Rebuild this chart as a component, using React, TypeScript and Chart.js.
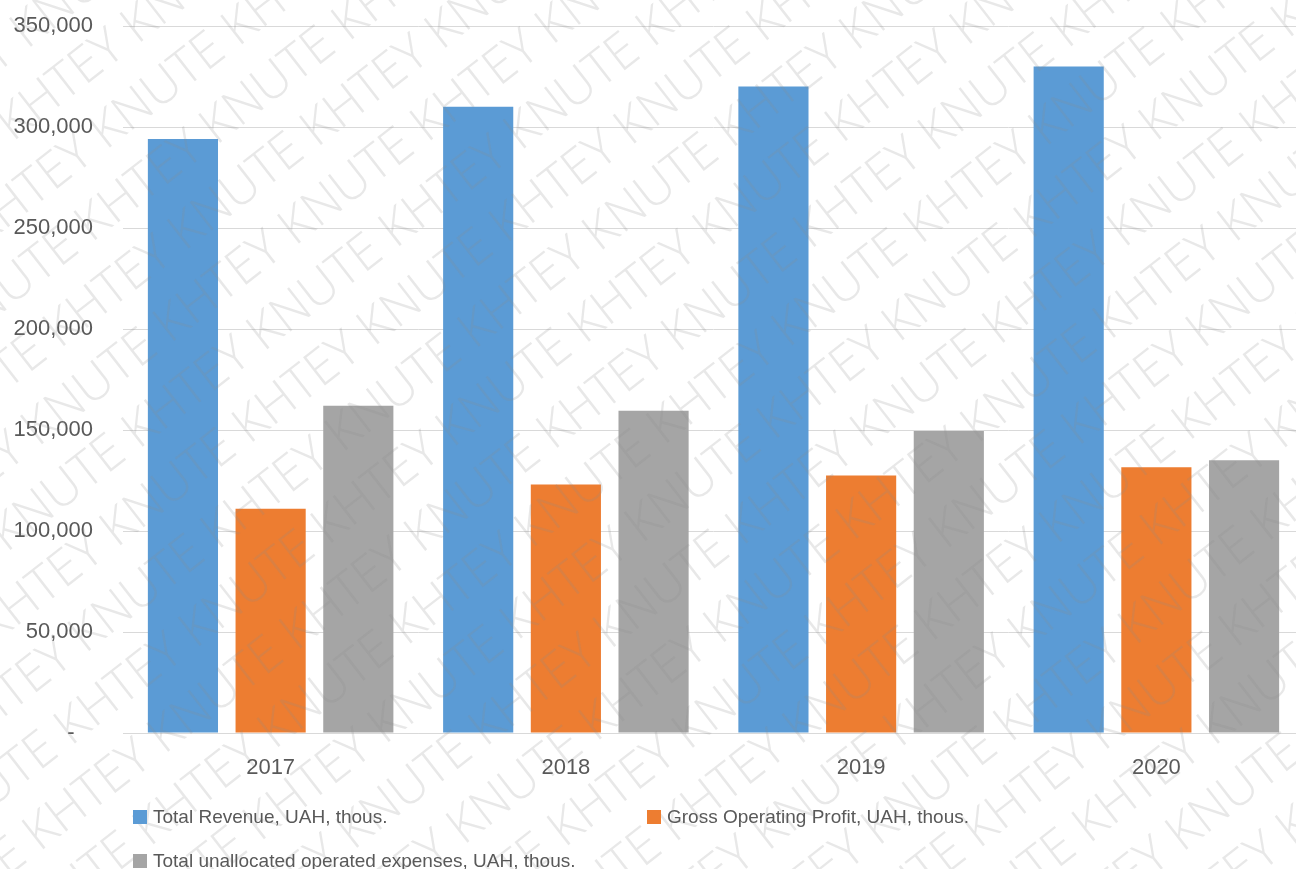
import React, { useEffect, useRef } from "react";
import { Chart, registerables } from "chart.js";

Chart.register(...registerables);

const categories = ["2017", "2018", "2019", "2020"];
const revenue = [294000, 310000, 320000, 330000];
const grossProfit = [111000, 123000, 127500, 131500];
const unallocated = [162000, 159500, 149500, 135000];
const seriesLabels = [
  "Total Revenue, UAH, thous.",
  "Gross Operating Profit, UAH, thous.",
  "Total unallocated operated expenses, UAH, thous.",
];
const seriesColors = ["#5B9BD5", "#ED7D31", "#A5A5A5"];
const yTicks = [0, 50000, 100000, 150000, 200000, 250000, 300000, 350000];
const watermarkText = "KHTEY KNUTE";

const textColor = "#595959";
const gridColor = "#D9D9D9";

const legendPlugin = {
  id: "customLegend",
  afterDraw(chart: any) {
    const ctx = chart.ctx;
    const items = [
      { x: 133, y: 817 },
      { x: 647, y: 817 },
      { x: 133, y: 861 },
    ];
    ctx.save();
    ctx.font = '19px "Liberation Sans", Arial, sans-serif';
    ctx.textBaseline = "middle";
    ctx.textAlign = "left";
    items.forEach((it, i) => {
      ctx.fillStyle = seriesColors[i];
      ctx.fillRect(it.x, it.y - 7, 14, 14);
      ctx.fillStyle = textColor;
      ctx.fillText(seriesLabels[i], it.x + 20, it.y + 1);
    });
    ctx.restore();
  },
};

const watermarkPlugin = {
  id: "watermark",
  afterDraw(chart: any) {
    const ctx = chart.ctx;
    const w = chart.width;
    const h = chart.height;
    ctx.save();
    ctx.font = '300 50px "Open Sans", "DejaVu Sans", sans-serif';
    ctx.fillStyle = "rgba(140,140,140,0.2)";
    ctx.textBaseline = "middle";
    ctx.translate(w / 2, h / 2);
    ctx.rotate((-38 * Math.PI) / 180);
    const line = (watermarkText + " ").repeat(10);
    const lw = ctx.measureText(line).width;
    const spacing = 64;
    for (let k = -13; k <= 13; k++) {
      const off = (k % 2) * 90;
      ctx.fillText(line, -lw / 2 + off, k * spacing);
    }
    ctx.restore();
  },
};

export default function App() {
  const ref = useRef<HTMLCanvasElement | null>(null);

  useEffect(() => {
    document.body.style.margin = "0";
    if (!ref.current) return;
    const chart = new Chart(ref.current, {
      type: "bar",
      data: {
        labels: categories,
        datasets: [
          { label: seriesLabels[0], data: revenue, backgroundColor: seriesColors[0] },
          { label: seriesLabels[1], data: grossProfit, backgroundColor: seriesColors[1] },
          { label: seriesLabels[2], data: unallocated, backgroundColor: seriesColors[2] },
        ],
      },
      options: {
        responsive: false,
        animation: false,
        layout: { padding: { left: 0, top: 26, right: 6, bottom: 0 } },
        datasets: {
          bar: { categoryPercentage: 0.891, barPercentage: 0.8 },
        },
        plugins: {
          legend: { display: false },
          tooltip: { enabled: false },
        },
        scales: {
          x: {
            grid: { display: false, drawTicks: false },
            border: { display: true, color: gridColor, width: 1 },
            ticks: {
              color: textColor,
              padding: 22,
              font: { family: '"Liberation Sans", Arial, sans-serif', size: 22 },
            },
            afterFit(scale: any) {
              scale.height = 136;
              scale.paddingLeft = 0;
              scale.paddingRight = 0;
            },
          },
          y: {
            min: 0,
            max: 350000,
            afterBuildTicks(scale: any) {
              scale.ticks = yTicks.map((v) => ({ value: v }));
            },
            grid: { color: gridColor, drawTicks: false, lineWidth: 1 },
            border: { display: false },
            ticks: {
              color: textColor,
              padding: 30,
              font: { family: '"Liberation Sans", Arial, sans-serif', size: 22 },
              callback: (v: any) => (Number(v) === 0 ? "-   " : Number(v).toLocaleString("en-US")),
            },
            afterFit(scale: any) {
              scale.width = 123;
              scale.paddingTop = 0;
              scale.paddingBottom = 0;
            },
          },
        },
      },
      plugins: [watermarkPlugin, legendPlugin],
    });
    return () => chart.destroy();
  }, []);

  return (
    <div
      style={{
        position: "fixed",
        left: 0,
        top: 0,
        width: 1296,
        height: 869,
        overflow: "hidden",
        background: "#fff",
      }}
    >
      <canvas ref={ref} width={1310} height={869} style={{ width: 1310, height: 869, display: "block" }} />
    </div>
  );
}
